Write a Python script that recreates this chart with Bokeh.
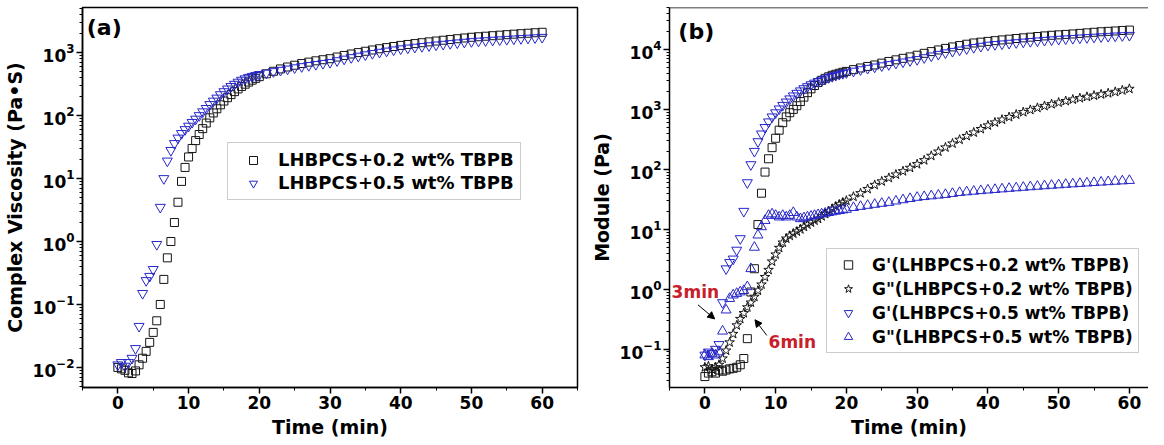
from bokeh.plotting import figure
from bokeh.layouts import row
from bokeh.models import (FixedTicker, Legend, LegendItem, Label, Arrow, NormalHead,
                          Span, Range1d)
from bokeh.embed import file_html
from bokeh.resources import INLINE

# ---------------- data ----------------
time_min = [0, 0.5, 1, 1.5, 2, 2.5, 3, 3.5, 4, 4.5, 5, 5.5, 6, 6.5, 7, 7.5, 8, 8.5, 9, 9.5,
            10, 10.5, 11, 11.5, 12, 12.5, 13, 13.5, 14, 14.5, 15, 15.5, 16, 16.5, 17, 17.5,
            18, 18.5, 19, 19.5, 20,
            21, 22, 23, 24, 25, 26, 27, 28, 29, 30, 31, 32, 33, 34, 35, 36, 37, 38, 39, 40,
            41, 42, 43, 44, 45, 46, 47, 48, 49, 50, 51, 52, 53, 54, 55, 56, 57, 58, 59, 60]

# (a) complex viscosity, Pa.s
eta_02 = [0.010, 0.0095, 0.009, 0.0082, 0.008, 0.0088, 0.011, 0.014, 0.018, 0.025, 0.036, 0.055,
          0.1, 0.25, 0.55, 1.0, 2.0, 4.2, 9, 15, 22, 30, 40, 50, 62, 76, 92, 110, 128, 148, 170,
          192, 215, 240, 265, 290, 315, 340, 365, 390, 415,
          460, 505, 550, 590, 630, 670, 705, 740, 770, 800, 850, 900, 950, 1000, 1050, 1100, 1150,
          1200, 1250, 1300, 1345, 1390, 1435, 1480, 1525, 1570, 1615, 1660, 1705, 1750, 1785,
          1820, 1855, 1890, 1925, 1960, 1995, 2030, 2065, 2100]
eta_05 = [0.011, 0.012, 0.0105, 0.012, 0.014, 0.02, 0.045, 0.15, 0.24, 0.28, 0.36, 0.9, 3.5, 10,
          19, 28, 36, 44, 52, 60, 68, 78, 88, 100, 115, 130, 150, 170, 190, 215, 240, 265, 290,
          315, 340, 365, 385, 405, 420, 435, 450,
          475, 500, 525, 550, 575, 600, 625, 650, 675, 700, 745, 790, 835, 880, 925, 970, 1015,
          1060, 1105, 1150, 1185, 1220, 1255, 1290, 1325, 1360, 1395, 1430, 1465, 1500, 1525,
          1550, 1575, 1600, 1625, 1650, 1675, 1700, 1725, 1750]

# (b) moduli, Pa
gp_02 = [0.035, 0.04, 0.042, 0.04, 0.045, 0.043, 0.045, 0.047, 0.048, 0.05, 0.055, 0.07, 0.15,
         0.9, 2.2, 12, 40, 90, 150, 230, 330, 450, 600, 750, 880, 1000, 1150, 1350, 1600, 1900,
         2200, 2500, 2800, 3050, 3300, 3500, 3700, 3850, 4000, 4150, 4300,
         4600, 4900, 5200, 5500, 5900, 6300, 6700, 7100, 7500, 8000, 8600, 9200, 9800, 10400,
         11000, 11600, 12200, 12800, 13200, 13600, 14000, 14400, 14800, 15200, 15600, 16000,
         16400, 16800, 17200, 17500, 17800, 18100, 18500, 18900, 19300, 19700, 20000, 20300,
         20700, 21000]
gpp_02 = [0.05, 0.052, 0.046, 0.05, 0.055, 0.07, 0.095, 0.13, 0.18, 0.25, 0.32, 0.4, 0.5, 0.6,
          0.75, 0.95, 1.2, 1.6, 2.1, 2.9, 3.8, 4.9, 6.0, 7.0, 7.8, 8.5, 9.2, 10, 11, 12, 13, 14,
          15, 16.5, 18, 20, 22, 24, 26, 28, 30,
          35, 40, 47, 55, 63, 72, 82, 93, 106, 122, 142, 168, 198, 232, 270, 312, 360, 412, 470,
          540, 605, 675, 745, 820, 900, 980, 1060, 1140, 1220, 1300, 1380, 1460, 1540, 1620,
          1700, 1780, 1860, 1960, 2080, 2200]
gp_05 = [0.08, 0.09, 0.085, 0.1, 0.12, 0.6, 2.2, 2.8, 3.2, 4.5, 7, 20, 60, 120, 200, 290, 390,
         500, 620, 750, 880, 1020, 1170, 1330, 1500, 1680, 1860, 2040, 2220, 2400, 2580, 2750,
         2920, 3080, 3240, 3400, 3550, 3700, 3850, 3980, 4100,
         4350, 4600, 4850, 5100, 5350, 5600, 5900, 6200, 6500, 6800, 7300, 7800, 8300, 8800,
         9300, 9800, 10300, 10800, 11300, 11800, 12100, 12400, 12700, 13000, 13300, 13600, 13900,
         14200, 14500, 14800, 15050, 15300, 15550, 15800, 16050, 16300, 16550, 16800, 17000, 17200]
gpp_05 = [0.08, 0.075, 0.085, 0.08, 0.09, 0.2, 0.45, 0.7, 0.8, 0.85, 0.9, 0.95, 1.1, 2.2, 5, 8,
          11, 14, 17, 18, 17, 16, 17, 16, 17, 19, 16, 15, 15.5, 16, 16.5, 17, 17.5, 18, 18.5, 19,
          19.5, 20, 20.5, 21, 21.5,
          23, 24, 25, 26, 27, 28, 29.5, 31, 32.5, 34, 35, 36, 37, 38, 39.5, 41, 42, 43, 44, 45,
          46, 47, 48, 49, 50, 51, 52, 53, 54, 55, 56, 57, 58, 59, 60, 61, 62, 63, 64, 65]

labels_a = ["LHBPCS+0.2 wt% TBPB", "LHBPCS+0.5 wt% TBPB"]
labels_b = ["G'(LHBPCS+0.2 wt% TBPB)", "G\"(LHBPCS+0.2 wt% TBPB)",
            "G'(LHBPCS+0.5 wt% TBPB)", "G\"(LHBPCS+0.5 wt% TBPB)"]

x_major = [0, 10, 20, 30, 40, 50, 60]
x_minor = [-5, 5, 15, 25, 35, 45, 55, 65]

FONT = "DejaVu Sans"
BLACK = "#151515"
BLUE = "#2626c8"
RED = "#c8202a"


def log_ticks(lo, hi):
    major = [10.0 ** e for e in range(lo, hi + 1)]
    minor = [k * 10.0 ** e for e in range(lo - 1, hi + 1) for k in range(2, 10)]
    return FixedTicker(ticks=major, minor_ticks=minor)


def style(p):
    for ax in (p.xaxis[0], p.yaxis[0]):
        ax.axis_line_width = 1.5
        ax.axis_line_color = "black"
        ax.major_tick_line_color = "black"
        ax.minor_tick_line_color = "black"
        ax.major_tick_line_width = 1.5
        ax.minor_tick_line_width = 1
        ax.major_tick_in = 0
        ax.major_tick_out = 6
        ax.minor_tick_in = 0
        ax.minor_tick_out = 3
        ax.major_label_text_font = FONT
        ax.major_label_text_font_style = "bold"
        ax.major_label_text_font_size = "17px"
        ax.major_label_text_color = "black"
        ax.axis_label_text_font = FONT
        ax.axis_label_text_font_style = "bold"
        ax.axis_label_text_font_size = "19px"
        ax.axis_label_text_color = "black"
        ax.major_label_standoff = 2
        ax.axis_label_standoff = 4
    p.xaxis.ticker = FixedTicker(ticks=x_major, minor_ticks=x_minor)
    p.grid.visible = False
    p.background_fill_color = "white"
    p.border_fill_color = "white"


def style_legend(lg, size):
    lg.label_text_font = FONT
    lg.label_text_font_style = "bold"
    lg.label_text_font_size = size
    lg.label_text_color = "black"
    lg.border_line_color = "#9a9a9a"
    lg.border_line_width = 1
    lg.background_fill_color = "white"
    lg.background_fill_alpha = 1
    lg.margin = 0


H = 440
TOP = 7

# ---------------- panel (a) ----------------
pa = figure(width=587, height=H, x_range=Range1d(-5, 65), y_range=Range1d(0.0048, 5200),
            y_axis_type="log", output_backend="svg", toolbar_location=None,
            min_border_left=70, min_border_right=10, min_border_top=TOP, min_border_bottom=0)
style(pa)
pa.yaxis.ticker = log_ticks(-2, 3)
pa.xaxis.axis_label = "Time (min)"
pa.yaxis.axis_label = "Complex Viscosity (Pa\u2022S)"
pa.outline_line_color = "black"
pa.outline_line_width = 1.5

ra1 = pa.scatter(time_min, eta_02, marker="square", size=8, line_color=BLACK, fill_alpha=0,
                 line_width=1)
ra2 = pa.scatter(time_min, eta_05, marker="inverted_triangle", size=10, line_color=BLUE,
                 fill_alpha=0, line_width=1)
lga = Legend(items=[LegendItem(label=labels_a[0], renderers=[ra1]),
                    LegendItem(label=labels_a[1], renderers=[ra2])],
             location=(145, 187), padding=6, spacing=2, glyph_width=38, glyph_height=20,
             label_standoff=6, label_height=20)
style_legend(lga, "18px")
pa.add_layout(lga)
pa.add_layout(Label(x=-4.4, y=10 ** 3.4, text="(a)", text_font=FONT, text_font_style="bold",
                    text_font_size="22px", text_baseline="middle", text_color="black"))

# ---------------- panel (b) ----------------
pb = figure(width=561, height=H, x_range=Range1d(-5, 62.7), y_range=Range1d(0.023, 50000),
            y_axis_type="log", output_backend="svg", toolbar_location=None,
            min_border_left=71, min_border_right=0, min_border_top=TOP, min_border_bottom=0)
style(pb)
pb.yaxis.ticker = log_ticks(-1, 4)
pb.xaxis.axis_label = "Time (min)"
pb.yaxis.axis_label = "Module (Pa)"
pb.outline_line_color = None
pb.add_layout(Span(location=50000, dimension="width", line_color="black", line_width=1.5))

rb1 = pb.scatter(time_min, gp_02, marker="square", size=8, line_color=BLACK, fill_alpha=0,
                 line_width=1)
rb2 = pb.scatter(time_min, gpp_02, marker="star", size=10, line_color=BLACK, fill_alpha=0,
                 line_width=1)
rb3 = pb.scatter(time_min, gp_05, marker="inverted_triangle", size=10, line_color=BLUE,
                 fill_alpha=0, line_width=1)
rb4 = pb.scatter(time_min, gpp_05, marker="triangle", size=10, line_color=BLUE, fill_alpha=0,
                 line_width=1)
lgb = Legend(items=[LegendItem(label=labels_b[i], renderers=[r])
                    for i, r in enumerate([rb1, rb2, rb3, rb4])],
             location=(157, 34), padding=5, spacing=3, glyph_width=32, glyph_height=21,
             label_standoff=8, label_height=21)
style_legend(lgb, "17px")
pb.add_layout(lgb)
pb.add_layout(Label(x=-3.75, y=10 ** 4.3, text="(b)", text_font=FONT, text_font_style="bold",
                    text_font_size="22px", text_baseline="middle", text_color="black"))
pb.add_layout(Label(x=-4.7, y=10 ** -0.04, text="3min", text_font=FONT, text_font_style="bold",
                    text_font_size="17px", text_color=RED, text_baseline="middle"))
pb.add_layout(Label(x=9.0, y=10 ** -0.88, text="6min", text_font=FONT, text_font_style="bold",
                    text_font_size="17px", text_color=RED, text_baseline="middle"))
pb.add_layout(Arrow(end=NormalHead(size=7, fill_color="black", line_color="black"),
                    x_start=-0.97, y_start=0.55, x_end=1.39, y_end=0.32,
                    line_color="black", line_width=1))
pb.add_layout(Arrow(end=NormalHead(size=7, fill_color="black", line_color="black"),
                    x_start=8.75, y_start=0.17, x_end=7.08, y_end=0.31,
                    line_color="black", line_width=1))

layout = row(pa, pb)
open("out.html", "w").write(file_html(layout, INLINE))
